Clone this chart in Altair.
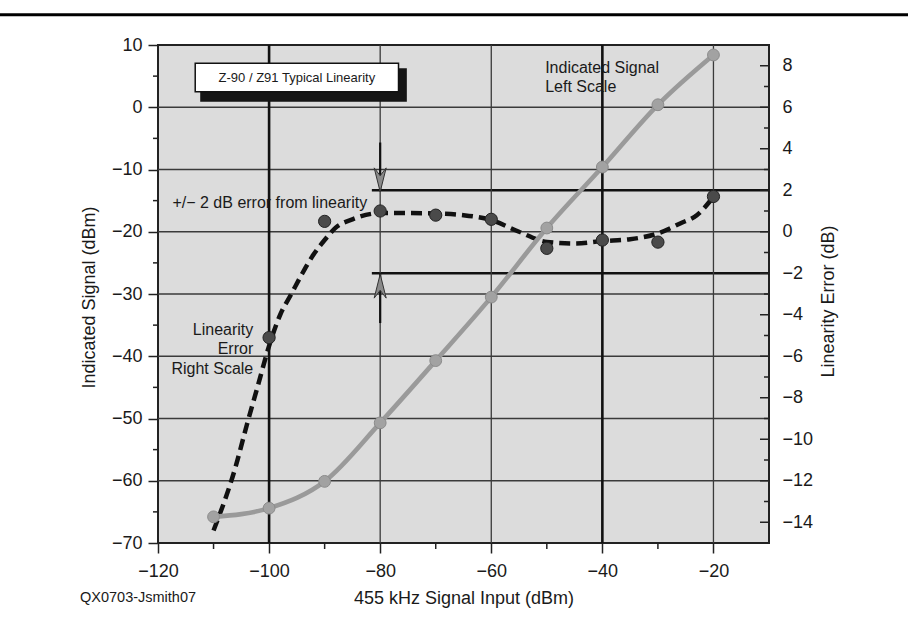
import altair as alt
import pandas as pd

FONT = "Liberation Sans"
INK = "#1a1a1a"

# ---------------- data ----------------
# Indicated signal (left scale, dBm)
sig_x = [-110, -100, -90, -80, -70, -60, -50, -40, -30, -20]
sig_y = [-65.8, -64.4, -60.1, -50.7, -40.7, -30.5, -19.4, -9.6, 0.4, 8.4]

# Linearity error markers (right scale, dB)
err_pt_x = [-100, -90, -80, -70, -60, -50, -40, -30, -20]
err_pt_y = [-5.1, 0.5, 1.0, 0.8, 0.6, -0.8, -0.4, -0.5, 1.7]

# Linearity error fitted (dashed) curve
err_curve_x = [-110, -106, -104, -102, -100, -98, -96, -94, -92, -90, -88, -85,
               -80, -75, -70, -65, -60, -55, -50, -45, -40, -35, -30, -26, -23, -20]
err_curve_y = [-14.4, -11.3, -9.3, -7.4, -5.5, -4.0, -3.0, -2.0, -1.1, -0.4, 0.2, 0.6,
               0.9, 0.9, 0.88, 0.8, 0.56, 0.0, -0.49, -0.57, -0.45, -0.36, -0.08, 0.4, 0.8, 1.68]

# axes / ticks
x_ticks = [-120, -100, -80, -60, -40, -20]
x_minor = [-110, -90, -70, -50, -30]
left_ticks = [-70, -60, -50, -40, -30, -20, -10, 0, 10]
left_minor = [-65, -55, -45, -35, -25, -15, -5, 5]
right_ticks = [-14, -12, -10, -8, -6, -4, -2, 0, 2, 4, 6, 8]
right_minor = [-13, -11, -9, -7, -5, -3, -1, 1, 3, 5, 7]
hgrid = [-60, -50, -40, -30, -20, -10, 0]
vgrid_thick = [-100, -40]
vgrid_thin = [-80, -60, -20]

# +/- 2 dB limit lines and arrows (right scale)
limit_y = [2, -2]
limit_x0 = [-81.5, -81.5]
limit_x1 = [-10, -10]
shaft_x = [-80, -80]
shaft_y0 = [4.3, -2.0]
shaft_y1 = [2.0, -4.4]
head_x = [-80]
head_down_y = [2.5]
head_up_y = [-2.62]

# title box (left scale)
box_x0, box_x1, box_y0, box_y1 = [-113.3], [-76.7], [7.06], [2.49]
shadow_x0, shadow_x1, shadow_y0, shadow_y1 = [-112.4], [-75.2], [6.25], [0.88]
box_label = ["Z-90 / Z91 Typical Linearity"]
box_label_x, box_label_y = [-95.0], [4.7]

# annotations (left scale)
note_label = ["+/\u2212 2 dB error from linearity"]
note_x, note_y = [-117.4], [-15.45]
lin_labels = ["Linearity", "Error", "Right Scale"]
lin_x = [-102.85, -102.85, -102.85]
lin_y = [-35.8, -38.9, -42.0]
ind_labels = ["Indicated Signal", "Left Scale"]
ind_x = [-50.3, -50.3]
ind_y = [6.35, 3.3]
credit = ["QX0703-Jsmith07"]

# ---------------- scales ----------------
xs = alt.Scale(domain=[-120, -10], nice=False, zero=False)
ls = alt.Scale(domain=[-70, 10], nice=False, zero=False)
rs = alt.Scale(domain=[-15, 9], nice=False, zero=False)

x_axis = alt.Axis(values=x_ticks, format="d", title="455 kHz Signal Input (dBm)",
                  orient="bottom", labelFlush=False, tickSize=10, tickColor="#222",
                  tickWidth=1.5, labelPadding=9, labelFontSize=18, labelFont=FONT,
                  labelColor=INK, titleFontSize=18, titleFont=FONT,
                  titleFontWeight="normal", titleColor=INK, titleY=60,
                  titleBaseline="alphabetic", grid=False, domain=False)
left_axis = alt.Axis(values=left_ticks, format="d", orient="left",
                     title="Indicated Signal (dBm)", tickSize=10, tickColor="#222",
                     tickWidth=1.5, labelPadding=6, labelFontSize=18, labelFont=FONT,
                     labelColor=INK, titleFontSize=18, titleFont=FONT,
                     titleFontWeight="normal", titleColor=INK, titleX=-69, titleY=252,
                     titleAngle=270, titleAlign="center", titleBaseline="middle",
                     grid=False, domain=False)
right_axis = alt.Axis(values=right_ticks, format="d", orient="right",
                      title="Linearity Error (dB)", ticks=False, labelPadding=13,
                      labelFontSize=18, labelFont=FONT, labelColor=INK,
                      titleFontSize=18, titleFont=FONT, titleFontWeight="normal",
                      titleColor=INK, titleX=59, titleY=256, titleAngle=270,
                      titleAlign="center", titleBaseline="middle",
                      grid=False, domain=False)


def X(field):
    # every layer carries the same x-axis definition so the shared axis merges cleanly
    return alt.X(field, scale=xs, axis=x_axis)


one = pd.DataFrame({"k": [0]})

# ---------------- background marks (left scale) ----------------
hgrid_l = alt.Chart(pd.DataFrame({"y": hgrid})).mark_rule(
    color="#3a3a3a", strokeWidth=1.4).encode(
    y=alt.Y("y:Q", scale=ls, axis=left_axis),
    x=alt.value(0), x2=alt.value(611))

vthin = alt.Chart(pd.DataFrame({"x": vgrid_thin})).mark_rule(
    color="#3a3a3a", strokeWidth=1.3).encode(
    x=X("x:Q"), y=alt.value(0), y2=alt.value(498))

vthick = alt.Chart(pd.DataFrame({"x": vgrid_thick})).mark_rule(
    color="#111", strokeWidth=2.6).encode(
    x=X("x:Q"), y=alt.value(0), y2=alt.value(498))

lminor = alt.Chart(pd.DataFrame({"y": left_minor})).mark_rule(
    color="#222", strokeWidth=1.5).encode(
    y=alt.Y("y:Q", scale=ls, axis=None),
    x=alt.value(-5), x2=alt.value(0))

bminor = alt.Chart(pd.DataFrame({"x": x_minor})).mark_rule(
    color="#222", strokeWidth=1.5).encode(
    x=X("x:Q"), y=alt.value(498), y2=alt.value(504))

top_rule = alt.Chart(one).mark_rule(color="#000", strokeWidth=3).encode(
    x=alt.value(-158), x2=alt.value(750), y=alt.value(-30.3))

shadow = alt.Chart(pd.DataFrame({"x0": shadow_x0, "x1": shadow_x1,
                                 "y0": shadow_y0, "y1": shadow_y1})).mark_rect(
    color="#151515").encode(
    x=X("x0:Q"), x2="x1:Q",
    y=alt.Y("y0:Q", scale=ls, axis=None), y2="y1:Q")

box = alt.Chart(pd.DataFrame({"x0": box_x0, "x1": box_x1,
                              "y0": box_y0, "y1": box_y1})).mark_rect(
    fill="white", stroke="#111", strokeWidth=1.5).encode(
    x=X("x0:Q"), x2="x1:Q",
    y=alt.Y("y0:Q", scale=ls, axis=None), y2="y1:Q")

box_text = alt.Chart(pd.DataFrame({"x": box_label_x, "y": box_label_y,
                                   "t": box_label})).mark_text(
    font=FONT, fontSize=13, color=INK, align="center", baseline="middle").encode(
    x=X("x:Q"), y=alt.Y("y:Q", scale=ls, axis=None), text="t:N")

note_text = alt.Chart(pd.DataFrame({"x": note_x, "y": note_y,
                                    "t": note_label})).mark_text(
    font=FONT, fontSize=16, color=INK, align="left", baseline="middle").encode(
    x=X("x:Q"), y=alt.Y("y:Q", scale=ls, axis=None), text="t:N")

lin_text = alt.Chart(pd.DataFrame({"x": lin_x, "y": lin_y,
                                   "t": lin_labels})).mark_text(
    font=FONT, fontSize=16, color=INK, align="right", baseline="middle").encode(
    x=X("x:Q"), y=alt.Y("y:Q", scale=ls, axis=None), text="t:N")

ind_text = alt.Chart(pd.DataFrame({"x": ind_x, "y": ind_y,
                                   "t": ind_labels})).mark_text(
    font=FONT, fontSize=16, color=INK, align="left", baseline="middle").encode(
    x=X("x:Q"), y=alt.Y("y:Q", scale=ls, axis=None), text="t:N")

credit_text = alt.Chart(pd.DataFrame({"t": credit})).mark_text(
    font=FONT, fontSize=14.5, color=INK, align="left", baseline="alphabetic").encode(
    x=alt.value(-78), y=alt.value(556.5), text="t:N")

# ---------------- linearity error marks (right scale) ----------------
limits = alt.Chart(pd.DataFrame({"y": limit_y, "x0": limit_x0, "x1": limit_x1})).mark_rule(
    color="#111", strokeWidth=2.6).encode(
    y=alt.Y("y:Q", scale=rs, axis=right_axis),
    x=X("x0:Q"), x2="x1:Q")

shafts = alt.Chart(pd.DataFrame({"x": shaft_x, "y0": shaft_y0, "y1": shaft_y1})).mark_rule(
    color="#111", strokeWidth=2.2).encode(
    x=X("x:Q"), y=alt.Y("y0:Q", scale=rs, axis=None), y2="y1:Q")

head_down = alt.Chart(pd.DataFrame({"x": head_x, "y": head_down_y})).mark_point(
    shape="M -0.5 -1 L 0 1 L 0.5 -1 L 0 -0.35 Z", size=576, filled=True,
    fill="#8a8a8a", stroke="#333", strokeWidth=1, opacity=1).encode(
    x=X("x:Q"), y=alt.Y("y:Q", scale=rs, axis=None))

head_up = alt.Chart(pd.DataFrame({"x": head_x, "y": head_up_y})).mark_point(
    shape="M -0.5 1 L 0 -1 L 0.5 1 L 0 0.35 Z", size=576, filled=True,
    fill="#8a8a8a", stroke="#333", strokeWidth=1, opacity=1).encode(
    x=X("x:Q"), y=alt.Y("y:Q", scale=rs, axis=None))

rmajor = alt.Chart(pd.DataFrame({"y": right_ticks})).mark_rule(
    color="#222", strokeWidth=1.5).encode(
    y=alt.Y("y:Q", scale=rs, axis=None),
    x=alt.value(602), x2=alt.value(611))

rminor = alt.Chart(pd.DataFrame({"y": right_minor})).mark_rule(
    color="#222", strokeWidth=1.5).encode(
    y=alt.Y("y:Q", scale=rs, axis=None),
    x=alt.value(606), x2=alt.value(611))

err_line = alt.Chart(pd.DataFrame({"x": err_curve_x, "y": err_curve_y})).mark_line(
    color="#111", strokeWidth=4.5, strokeDash=[11, 6], interpolate="monotone").encode(
    x=X("x:Q"), y=alt.Y("y:Q", scale=rs, axis=None))

err_pts = alt.Chart(pd.DataFrame({"x": err_pt_x, "y": err_pt_y})).mark_point(
    filled=True, size=150, fill="#4a4a4a", stroke="#222", strokeWidth=1,
    opacity=1).encode(
    x=X("x:Q"), y=alt.Y("y:Q", scale=rs, axis=None))

# ---------------- indicated signal (left scale, on top) ----------------
sig_line = alt.Chart(pd.DataFrame({"x": sig_x, "y": sig_y})).mark_line(
    color="#9a9a9a", strokeWidth=4.6, interpolate="monotone").encode(
    x=X("x:Q"), y=alt.Y("y:Q", scale=ls, axis=None))

sig_pts = alt.Chart(pd.DataFrame({"x": sig_x, "y": sig_y})).mark_point(
    filled=True, size=140, fill="#a2a2a2", stroke="#8c8c8c", strokeWidth=1,
    opacity=1).encode(
    x=X("x:Q"), y=alt.Y("y:Q", scale=ls, axis=None))

chart = alt.layer(
    hgrid_l, limits, vthin, vthick, lminor, bminor, top_rule, shadow, box,
    box_text, note_text, lin_text, ind_text, credit_text,
    shafts, head_down, head_up, rmajor, rminor, err_line, err_pts,
    sig_line, sig_pts
).resolve_scale(
    y="independent"
).properties(
    width=611, height=498,
    autosize=alt.AutoSizeParams(type="none"),
    padding={"left": 158, "top": 45, "right": 139, "bottom": 75},
    background="white",
).configure_view(
    fill="#dcdcdc", stroke="#222", strokeWidth=2
)

chart.save("out.html", embed_options={"renderer": "svg", "actions": False})
